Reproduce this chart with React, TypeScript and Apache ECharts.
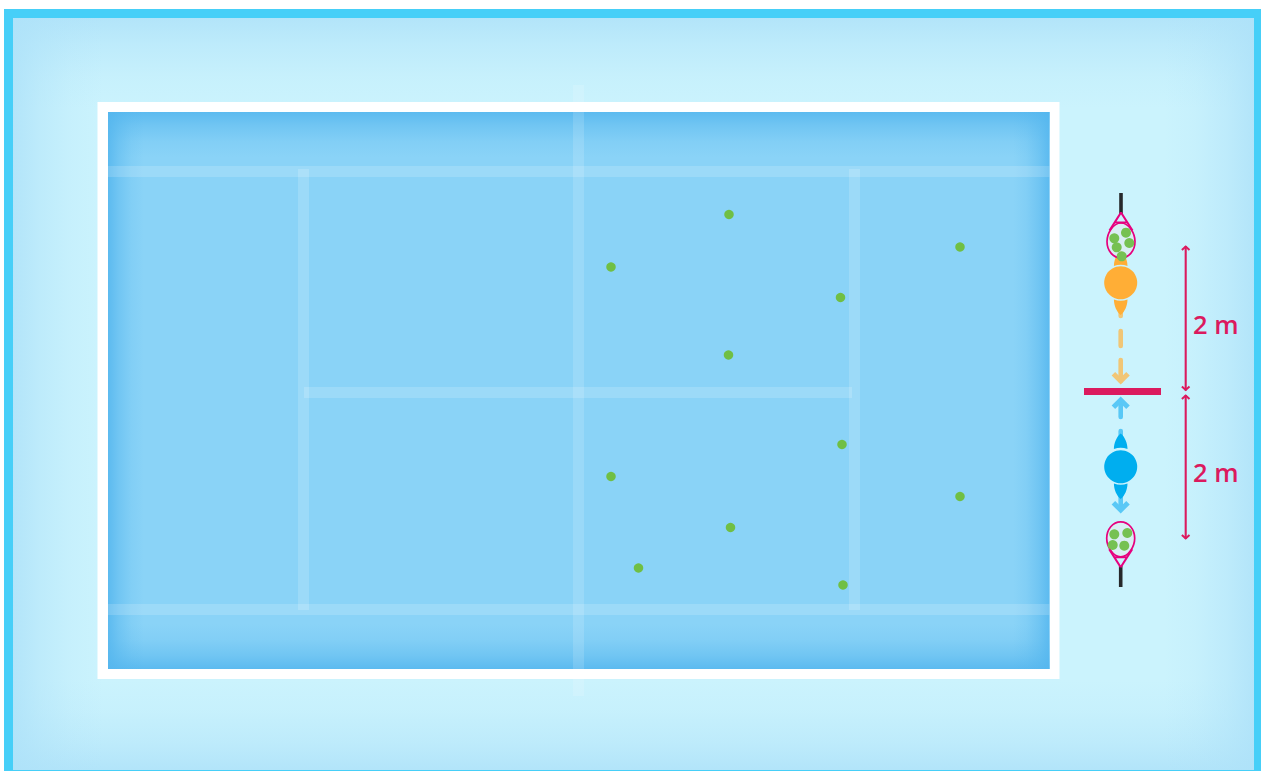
import React, { useEffect, useRef } from "react";
import * as echarts from "echarts";

const WIDTH = 1261;
const HEIGHT = 771;

const courtBalls: number[][] = [
  [729, 214.5], [611, 267], [840.5, 297.5], [960, 247], [728.5, 355], [842, 444.5],
  [611, 476.5], [960, 496.5], [730.5, 527.5], [638.5, 568], [843, 585],
];
const topRacketBalls: number[][] = [
  [1126, 232.7], [1114.3, 238.3], [1129.3, 243], [1116.7, 247.3], [1121.7, 256.3],
];
const bottomRacketBalls: number[][] = [
  [1114.3, 534.3], [1127.3, 533], [1112.7, 545], [1124.3, 545.7],
];
const orangePlayer: number[][] = [[1120.7, 282.7]];
const bluePlayer: number[][] = [[1120.7, 466.7]];
const distanceLabels = ["2 m", "2 m"];

echarts.graphic.registerShape(
  "racketHead",
  echarts.graphic.extendPath(
    "M0,-17.5 C8,-17.5 14,-7 14,1 C14,10 8,17.5 0,17.5 C-8,17.5 -14,10 -14,1 C-14,-7 -8,-17.5 0,-17.5 Z",
    {}
  )
);
echarts.graphic.registerShape(
  "racketThroat",
  echarts.graphic.extendPath("M0,-28 L-11.5,-10 M0,-28 L11.5,-10 M-5.5,-18 L5.5,-18", {})
);
echarts.graphic.registerShape(
  "wing",
  echarts.graphic.extendPath("M-6.8,1 Q0,-1.6 6.8,1 C6.8,-5 4,-11.5 0,-14.5 C-4,-11.5 -6.8,-5 -6.8,1 Z", {})
);
echarts.graphic.registerShape(
  "chevron",
  echarts.graphic.extendPath("M-7.3,-6.8 L0,0.5 L7.3,-6.8", {})
);

const RED = "#DB1A5E";
const ORANGE = "#FFAE36";
const ORANGE_SOFT = "#F1C676";
const BLUE = "#00AEEF";
const BLUE_SOFT = "#59C8F6";
const PINK = "#E6007E";

function edge(
  x: number, y: number, w: number, h: number,
  dir: "l" | "r" | "t" | "b", rgb: string, alpha: number
) {
  const c: Record<string, number[]> = {
    l: [0, 0, 1, 0], r: [1, 0, 0, 0], t: [0, 0, 0, 1], b: [0, 1, 0, 0],
  };
  const [a, b, d, e] = c[dir];
  return {
    type: "rect",
    shape: { x, y, width: w, height: h },
    silent: true,
    style: {
      fill: new echarts.graphic.LinearGradient(a, b, d, e, [
        { offset: 0, color: `rgba(${rgb},${alpha})` },
        { offset: 0.3, color: `rgba(${rgb},${alpha * 0.55})` },
        { offset: 0.65, color: `rgba(${rgb},${alpha * 0.18})` },
        { offset: 1, color: `rgba(${rgb},0)` },
      ]),
    },
  };
}

function rect(x: number, y: number, width: number, height: number, fill: string) {
  return { type: "rect", shape: { x, y, width, height }, silent: true, style: { fill } };
}

function stroke(x1: number, y1: number, x2: number, y2: number, color: string, lineWidth: number, cap = "round") {
  return {
    type: "line",
    shape: { x1, y1, x2, y2 },
    silent: true,
    style: { stroke: color, lineWidth, lineCap: cap },
  };
}

function chevron(x: number, y: number, color: string, flip: boolean) {
  return {
    type: "chevron",
    x, y,
    scaleY: flip ? -1 : 1,
    silent: true,
    style: { fill: "none", stroke: color, lineWidth: 5, lineJoin: "miter" },
  };
}

function dimArrow(x: number, y1: number, y2: number) {
  return [
    stroke(x, y1, x, y2, RED, 2.1, "butt"),
    {
      type: "polyline",
      shape: { points: [[x - 3.8, y1 + 4], [x, y1 + 0.5], [x + 3.8, y1 + 4]] },
      silent: true,
      style: { fill: "none", stroke: RED, lineWidth: 2 },
    },
    {
      type: "polyline",
      shape: { points: [[x - 3.8, y2 - 4], [x, y2 - 0.5], [x + 3.8, y2 - 4]] },
      silent: true,
      style: { fill: "none", stroke: RED, lineWidth: 2 },
    },
  ];
}

function racket(cx: number, cy: number, flip: boolean, hy1: number, hy2: number) {
  const s = flip ? -1 : 1;
  return [
    stroke(cx, hy1, cx, hy2, "#26282B", 3.6, "butt"),
    {
      type: "racketHead", x: cx, y: cy, scaleY: s, silent: true,
      style: { fill: "rgba(222,236,240,0.75)", stroke: PINK, lineWidth: 1.7 },
    },
    {
      type: "racketThroat", x: cx, y: cy, scaleY: s, silent: true,
      style: { fill: "none", stroke: PINK, lineWidth: 2.1 },
    },
  ];
}

function wing(cx: number, y: number, color: string, flip: boolean) {
  return {
    type: "wing", x: cx, y, scaleY: flip ? -1 : 1, silent: true,
    style: { fill: color },
  };
}

function label(text: string, x: number, y: number) {
  return {
    type: "text", x, y, silent: true,
    style: {
      text, fill: RED, font: '600 25.5px "Open Sans", sans-serif',
      textAlign: "left", textVerticalAlign: "middle",
    },
  };
}

const LINE = "rgba(255,255,255,0.16)";
const OUT_RGB = "174,226,249";
const COURT_RGB = "84,182,238";

const graphics: any[] = [
  rect(4, 9, 1257, 762, "#46CFF8"),
  rect(13, 18, 1241, 752, "#CBF3FD"),
  edge(13, 18, 1241, 90, "t", OUT_RGB, 0.85),
  edge(13, 680, 1241, 90, "b", OUT_RGB, 0.85),
  edge(13, 18, 90, 752, "l", OUT_RGB, 0.85),
  edge(1164, 18, 90, 752, "r", OUT_RGB, 0.85),
  rect(97.5, 102, 962, 577, "#FFFFFF"),
  rect(108, 112, 941.5, 557, "#8AD3F7"),
  edge(108, 112, 941.5, 45, "t", COURT_RGB, 0.85),
  edge(108, 624, 941.5, 45, "b", COURT_RGB, 0.85),
  edge(108, 112, 36, 557, "l", COURT_RGB, 0.85),
  edge(1013.5, 112, 36, 557, "r", COURT_RGB, 0.85),
  rect(108, 166, 941.5, 11, LINE),
  rect(108, 604, 941.5, 11, LINE),
  rect(298, 169, 11, 441, LINE),
  rect(849, 169, 11, 441, LINE),
  rect(304, 387, 548, 11, LINE),
  rect(573, 85, 11, 611, "rgba(255,255,255,0.14)"),

  // Orange player's movement
  stroke(1120.7, 306, 1120.7, 316, ORANGE_SOFT, 4.6),
  stroke(1120.7, 331, 1120.7, 346, ORANGE_SOFT, 4.6),
  stroke(1120.7, 360, 1120.7, 381, ORANGE_SOFT, 4.6),
  chevron(1120.7, 380.5, ORANGE_SOFT, false),
  wing(1120.7, 265, ORANGE, false),
  wing(1120.7, 300.5, ORANGE, true),

  // Blue player's movement
  stroke(1120.7, 402, 1120.7, 417, BLUE_SOFT, 4.6),
  chevron(1120.7, 400.5, BLUE_SOFT, true),
  stroke(1120.7, 431, 1120.7, 440, BLUE_SOFT, 4.6),
  stroke(1120.7, 490, 1120.7, 508, BLUE_SOFT, 4.6),
  chevron(1120.7, 509.5, BLUE_SOFT, false),
  wing(1120.7, 448, BLUE, false),
  wing(1120.7, 484.5, BLUE, true),

  ...racket(1121, 240.5, false, 193, 214),
  ...racket(1120.7, 539.3, true, 566, 587),

  rect(1084, 388, 77, 7, RED),
  ...dimArrow(1185.7, 246, 390.5),
  ...dimArrow(1185.7, 395, 539),
  label(distanceLabels[0], 1193, 324),
  label(distanceLabels[1], 1193, 472),
];

function scatter(name: string, data: number[][], symbolSize: number, color: string, z: number) {
  return {
    name,
    type: "scatter",
    data,
    symbol: "circle",
    symbolSize,
    z,
    silent: true,
    itemStyle: { color, opacity: 1 },
  };
}

export default function App() {
  const ref = useRef<HTMLDivElement>(null);
  useEffect(() => {
    const chart = echarts.init(ref.current!, undefined, { renderer: "svg" });
    chart.setOption({
      animation: false,
      grid: { left: 0, right: 0, top: 0, bottom: 0 },
      xAxis: { type: "value", min: 0, max: WIDTH, show: false },
      yAxis: { type: "value", min: 0, max: HEIGHT, inverse: true, show: false },
      graphic: { elements: graphics },
      series: [
        scatter("Orange player", orangePlayer, 33, ORANGE, 3),
        scatter("Blue player", bluePlayer, 33, BLUE, 3),
        scatter("Court balls", courtBalls, 9.5, "#70BF44", 4),
        scatter("Top racket balls", topRacketBalls, 10, "#76C152", 4),
        scatter("Bottom racket balls", bottomRacketBalls, 10, "#76C152", 4),
      ],
    });
    return () => chart.dispose();
  }, []);
  return (
    <div
      ref={ref}
      style={{ position: "absolute", left: 0, top: 0, width: WIDTH, height: HEIGHT }}
    />
  );
}
